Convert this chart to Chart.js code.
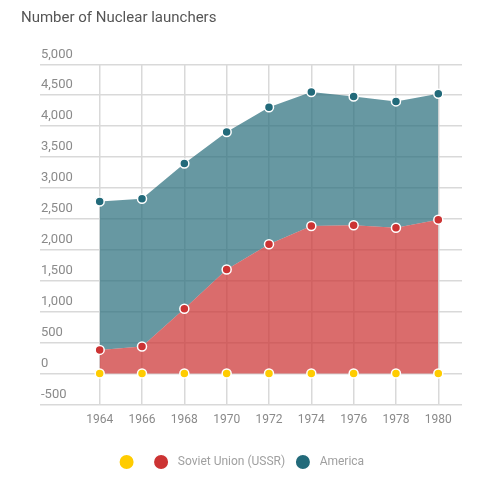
<!DOCTYPE html>
<html>
<head>
<meta charset="utf-8">
<script src="https://cdn.jsdelivr.net/npm/chart.js@4"></script>
<style>
  html, body { margin: 0; padding: 0; background: #fff; }
  #wrap { width: 498px; height: 480px; }
</style>
</head>
<body>
<div id="wrap"><canvas id="chart"></canvas></div>
<script>
// values
const years = [1964, 1966, 1968, 1970, 1972, 1974, 1976, 1978, 1980];
const baseline = [0, 0, 0, 0, 0, 0, 0, 0, 0];
const ussr = [380, 435, 1045, 1680, 2090, 2385, 2395, 2355, 2485];
const america = [2780, 2825, 3395, 3905, 4305, 4550, 4480, 4400, 4525];
const seriesNames = ['', 'Soviet Union (USSR)', 'America'];

const FONT = 'Roboto';

function toPoints(values) {
  return years.map((yr, i) => ({ x: yr, y: values[i] }));
}

function pointSet(label, values, color, fill, fillColor) {
  return {
    label: label,
    data: toPoints(values),
    borderWidth: 0,
    borderColor: 'transparent',
    backgroundColor: fillColor || color,
    fill: fill,
    tension: 0,
    pointRadius: 4.5,
    pointHoverRadius: 4.5,
    pointBorderWidth: 1.5,
    pointBorderColor: '#ffffff',
    pointBackgroundColor: color,
  };
}

const ctx = document.getElementById('chart').getContext('2d');

new Chart(ctx, {
  type: 'line',
  data: {
    datasets: [
      pointSet(seriesNames[0], baseline, '#ffcc00', false),
      pointSet(seriesNames[1], ussr, '#cc3333', 'origin', 'rgba(204, 51, 51, 0.72)'),
      pointSet(seriesNames[2], america, '#226a7a', '-1', 'rgba(38, 108, 122, 0.7)'),
    ],
  },
  options: {
    responsive: true,
    maintainAspectRatio: false,
    animation: false,
    layout: {
      padding: { left: 21, right: 36, top: 0, bottom: 2 },
    },
    scales: {
      x: {
        type: 'linear',
        min: 1961.18,
        max: 1981.12,
        afterBuildTicks: (axis) => {
          axis.ticks = years.map((v) => ({ value: v }));
        },
        afterFit: (axis) => {
          axis.height = 41.7;
        },
        border: { display: false },
        grid: {
          color: '#d9d9d9',
          lineWidth: 1.5,
          drawTicks: false,
        },
        ticks: {
          padding: 8,
          color: '#8a8a8a',
          font: { family: FONT, size: 12 },
          maxRotation: 0,
          autoSkip: false,
          callback: (v) => String(v),
        },
      },
      y: {
        min: -500,
        max: 5000,
        afterFit: (axis) => {
          axis.width = 19;
        },
        border: { display: false },
        grid: {
          color: '#d9d9d9',
          lineWidth: 1.5,
          drawTicks: false,
        },
        ticks: {
          stepSize: 500,
          mirror: true,
          padding: 1,
          labelOffset: -10,
          color: '#8a8a8a',
          font: { family: FONT, size: 13 },
        },
      },
    },
    plugins: {
      title: {
        display: true,
        text: 'Number of Nuclear launchers',
        align: 'start',
        color: '#555555',
        font: { family: FONT, size: 15, weight: 'normal' },
        padding: { top: 9, bottom: 37.3 },
      },
      legend: {
        display: true,
        position: 'bottom',
        labels: {
          usePointStyle: true,
          pointStyle: 'circle',
          pointStyleWidth: 15.5,
          boxHeight: 11,
          padding: 10,
          color: '#a0a0a0',
          font: { family: FONT, size: 12 },
          // a bit more room between the dot and its text
          generateLabels: (chart) =>
            Chart.defaults.plugins.legend.labels.generateLabels(chart).map((item) => {
              item.text = ' ' + item.text;
              return item;
            }),
        },
      },
      tooltip: { enabled: true },
    },
  },
});
</script>
</body>
</html>
